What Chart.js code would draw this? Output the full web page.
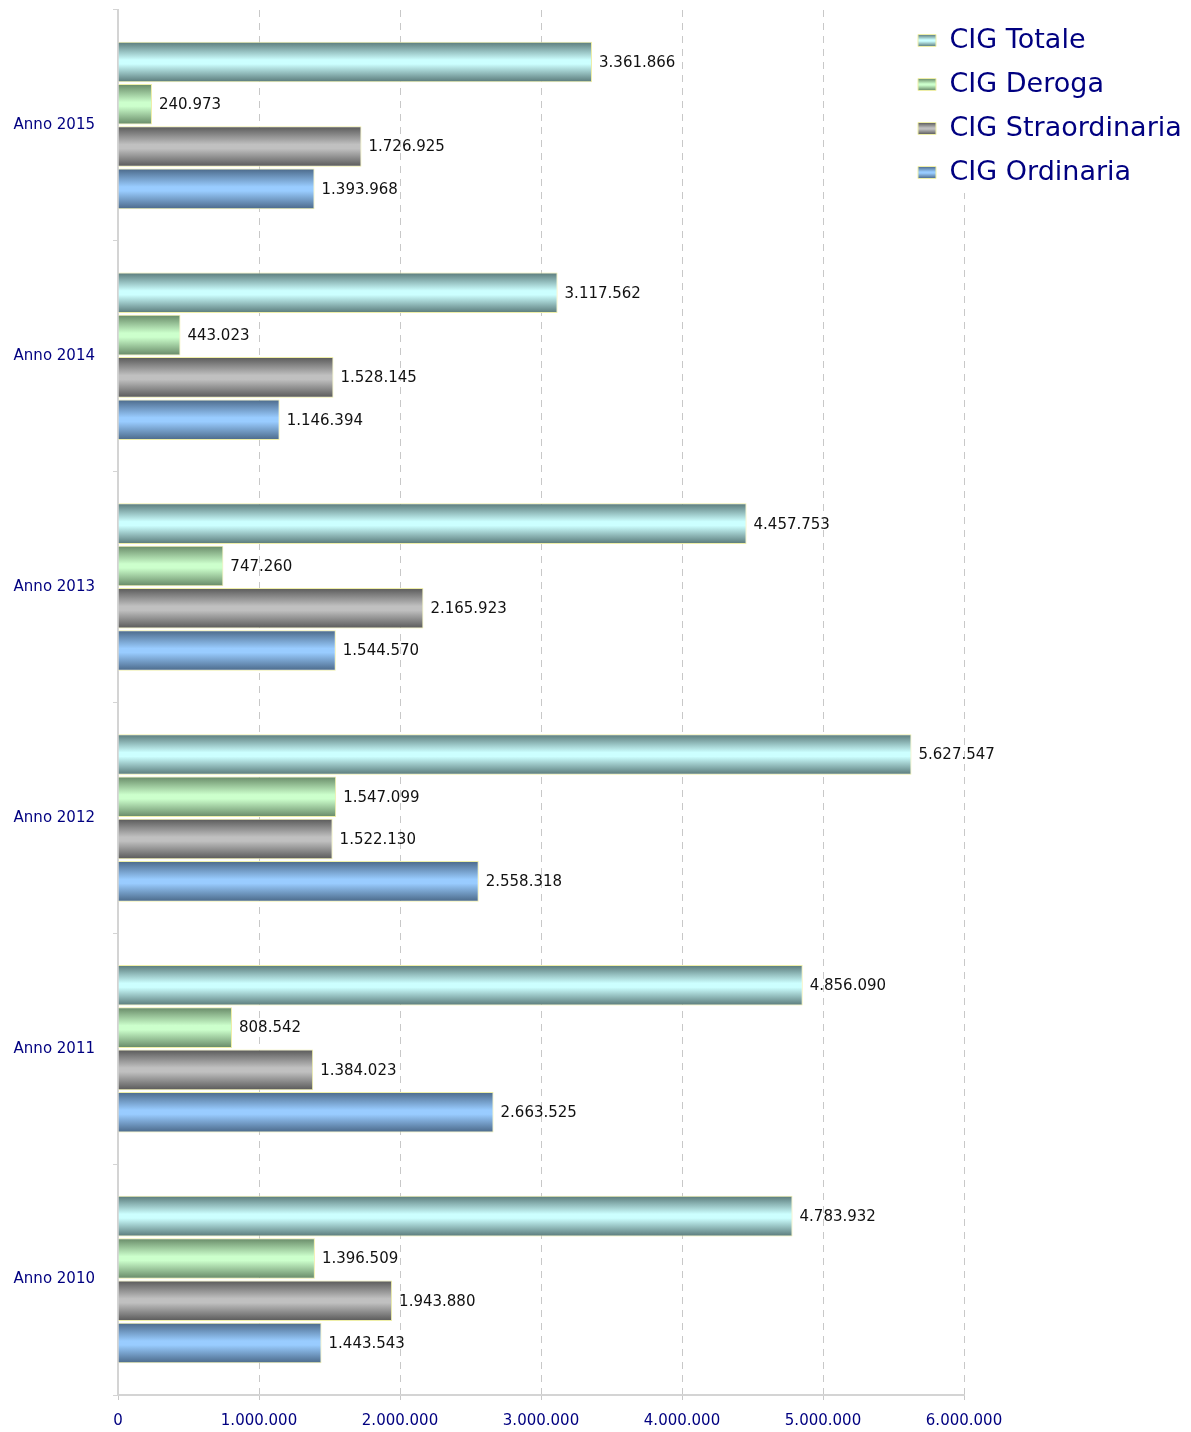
<!DOCTYPE html>
<html lang="it">
<head>
<meta charset="utf-8">
<title>CIG - Ore autorizzate 2010-2015</title>
<script src="https://cdn.jsdelivr.net/npm/chart.js@4.4.1/dist/chart.umd.min.js"></script>
<style>
  html, body { margin: 0; padding: 0; background: #fff; }
  #wrap { width: 1191px; height: 1432px; position: relative; }
</style>
</head>
<body>
<div id="wrap"><canvas id="cig-chart"></canvas></div>
<script>
// ===============================
//  Data (top to bottom, as in the picture)
// ===============================
const anni = ['Anno 2015', 'Anno 2014', 'Anno 2013', 'Anno 2012', 'Anno 2011', 'Anno 2010'];

const cigTotale        = [3361866, 3117562, 4457753, 5627547, 4856090, 4783932];
const cigDeroga        = [240973, 443023, 747260, 1547099, 808542, 1396509];
const cigStraordinaria = [1726925, 1528145, 2165923, 1522130, 1384023, 1943880];
const cigOrdinaria     = [1393968, 1146394, 1544570, 2558318, 2663525, 1443543];

const xMin = 0;
const xMax = 6000000;
const xStep = 1000000;

// Colours: [edge, middle] of the vertical "cylinder" gradient
const seriesColors = [
  ['#587878', '#ccffff'], // Totale
  ['#668866', '#ccffcc'], // Deroga
  ['#585858', '#c0c0c0'], // Straordinaria
  ['#4a6888', '#99ccff'], // Ordinaria
];
const navy = '#000080';
const barBorder = '#eeeea8';

// Italian thousands separator
const fmt = (v) => String(v).replace(/\B(?=(\d{3})+(?!\d))/g, '.');

function cylinder(ctx, top, height, colors) {
  const g = ctx.createLinearGradient(0, top, 0, top + height);
  g.addColorStop(0, colors[0]);
  g.addColorStop(0.45, colors[1]);
  g.addColorStop(0.55, colors[1]);
  g.addColorStop(1, colors[0]);
  return g;
}

Chart.defaults.font.family = '"DejaVu Sans", Verdana, sans-serif';

// Paint every bar with a gradient fitted to its own height
const gradientBars = {
  id: 'gradientBars',
  beforeDatasetsDraw(chart) {
    const ctx = chart.ctx;
    chart.data.datasets.forEach((ds, i) => {
      chart.getDatasetMeta(i).data.forEach((bar) => {
        const top = bar.y - bar.height / 2;
        bar.options.backgroundColor = cylinder(ctx, top, bar.height, seriesColors[i]);
      });
    });
  },
};

// Value labels at the end of each bar
const valueLabels = {
  id: 'valueLabels',
  afterDatasetsDraw(chart) {
    const ctx = chart.ctx;
    ctx.save();
    ctx.font = '15px "DejaVu Sans"';
    ctx.fillStyle = '#111';
    ctx.textAlign = 'left';
    ctx.textBaseline = 'middle';
    chart.data.datasets.forEach((ds, i) => {
      chart.getDatasetMeta(i).data.forEach((bar, j) => {
        ctx.fillText(fmt(ds.data[j]), bar.x + 7, bar.y + 1);
      });
    });
    ctx.restore();
  },
};

// Legend sits over the top-right corner of the plot, on white
const legendSpot = {
  id: 'legendSpot',
  afterLayout(chart) {
    const legend = chart.legend;
    legend.left = 901; legend.right = 1191; legend.width = 290;
    legend.top = 10; legend.bottom = 230; legend.height = 220;
    if (!legend._whitePatched) {
      const draw = legend.draw.bind(legend);
      legend.draw = function () {
        const ctx = chart.ctx;
        ctx.save();
        ctx.fillStyle = '#fff';
        ctx.fillRect(legend.left, legend.top, legend.width, 183);
        ctx.restore();
        draw();
      };
      legend._whitePatched = true;
    }
  },
};

const ctx = document.getElementById('cig-chart').getContext('2d');

new Chart(ctx, {
  type: 'bar',
  data: {
    labels: anni,
    datasets: [
      { label: 'CIG Totale', data: cigTotale },
      { label: 'CIG Deroga', data: cigDeroga },
      { label: 'CIG Straordinaria', data: cigStraordinaria },
      { label: 'CIG Ordinaria', data: cigOrdinaria },
    ].map((ds, i) => ({
      ...ds,
      backgroundColor: () => seriesColors[i][1],
      borderColor: barBorder,
      borderWidth: 1,
      categoryPercentage: 0.733,
      barPercentage: 0.96,
    })),
  },
  options: {
    indexAxis: 'y',
    responsive: true,
    maintainAspectRatio: false,
    animation: false,
    layout: { padding: { left: 11, top: 10, right: 0, bottom: 0 } },
    scales: {
      x: {
        min: xMin,
        max: xMax,
        ticks: {
          stepSize: xStep,
          color: navy,
          padding: 12,
          font: { size: 15 },
          callback: (v) => fmt(v),
        },
        grid: { color: '#c8c8c8', tickLength: 5, z: -1 },
        border: { color: '#d4d4d4', width: 2, dash: [7, 6] },
        afterFit(scale) { scale.height = 37; },
      },
      y: {
        ticks: { color: navy, padding: 18, font: { size: 15 } },
        grid: { drawOnChartArea: false, offset: true, tickLength: 5, color: '#d4d4d4' },
        border: { color: '#d4d4d4', width: 2 },
        afterFit(scale) {
          scale.width = 107;
          scale.paddingTop = 0;
          scale.paddingBottom = 0;
        },
      },
    },
    plugins: {
      tooltip: { enabled: false },
      legend: {
        position: 'right',
        align: 'start',
        maxWidth: 227,
        labels: {
          color: navy,
          font: { size: 27 },
          boxWidth: 18,
          boxHeight: 12,
          padding: 17,
          generateLabels(chart) {
            const items = Chart.defaults.plugins.legend.labels.generateLabels(chart);
            const legend = chart.legend;
            items.forEach((item, i) => {
              const y = legend.top + 17 + i * 44 + (27 - 12) / 2;
              item.fillStyle = cylinder(chart.ctx, y, 12, seriesColors[i]);
              item.strokeStyle = barBorder;
              item.lineWidth = 1;
            });
            return items;
          },
        },
      },
    },
  },
  plugins: [gradientBars, valueLabels, legendSpot],
});
</script>
</body>
</html>
